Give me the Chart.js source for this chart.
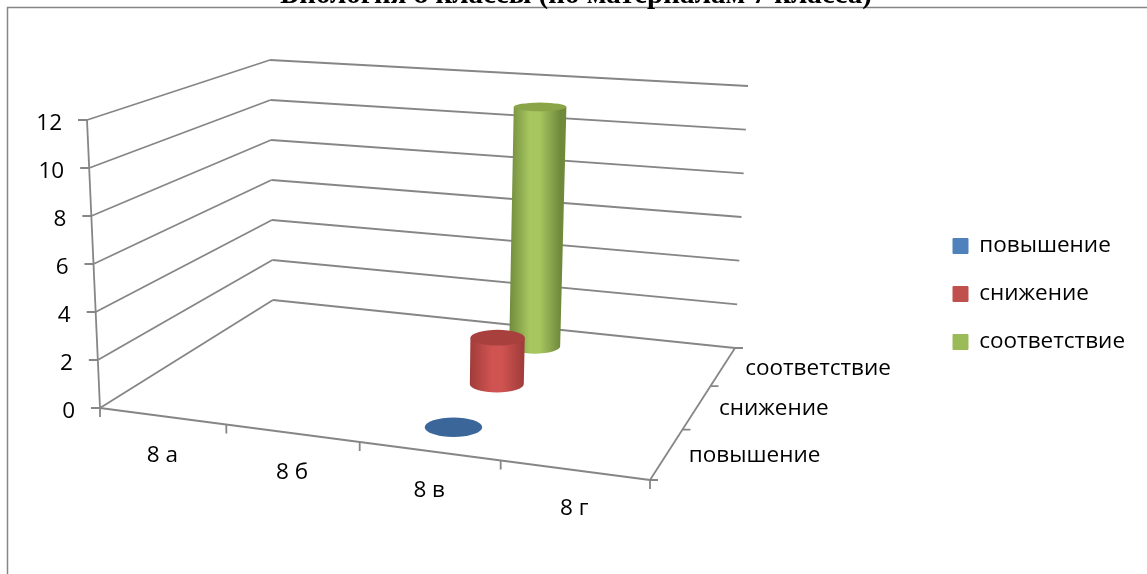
<!DOCTYPE html>
<html lang="ru">
<head>
    <meta charset="UTF-8">
    <title>Биология 8 классы</title>
    <script src="https://cdn.jsdelivr.net/npm/chart.js"></script>
    <style>
        html, body { margin: 0; padding: 0; background: #fff; overflow: hidden; }
        .chart-box { position: relative; width: 1147px; height: 574px; }
    </style>
</head>
<body>
<div class="chart-box"><canvas id="myChart" width="1147" height="574"></canvas></div>
<script>
    // Chart data
    const titleText = 'Биология 8 классы (по материалам 7 класса)';
    const categories = ['8 а', '8 б', '8 в', '8 г'];
    const seriesNames = ['повышение', 'снижение', 'соответствие'];
    const valueTicks = [0, 2, 4, 6, 8, 10, 12];
    const povyshenie = [null, null, 0, null];
    const snizhenie = [null, null, 2, null];
    const sootvetstvie = [null, null, 11, null];
    const seriesValues = [povyshenie, snizhenie, sootvetstvie];

    // Colours: legend colour, dark edge of the cylinder, lit middle, top cap
    const seriesColors = ['#4f81bd', '#c0504d', '#9bbb59'];
    const edgeColors = ['#3b6699', '#a03c3a', '#708a3c'];
    const midColors = ['#3b6699', '#cf5350', '#a6c660'];
    const capColors = ['#3b6699', '#a8403e', '#8aa548'];

    const lineColor = '#868686';
    const labelFont = '22.5px "Open Sans"';
    const maxValue = 12;
    const cylinderRadius = 0.21; // in category cells

    // Corners of the 3D box on the page: front-left, front-right, back-right, back-left
    const floorCorners = [[100, 408], [650, 480], [735, 348], [273, 300]];
    const topCorners = [[87, 120], [663, 160], [748, 86], [270, 60]];

    // Perspective map of the unit square onto four corners
    function makeHomography(p) {
        const [x0, y0] = p[0], [x1, y1] = p[1], [x2, y2] = p[2], [x3, y3] = p[3];
        const dx1 = x1 - x2, dx2 = x3 - x2, sx = x0 - x1 + x2 - x3;
        const dy1 = y1 - y2, dy2 = y3 - y2, sy = y0 - y1 + y2 - y3;
        const det = dx1 * dy2 - dx2 * dy1;
        const g = (sx * dy2 - dx2 * sy) / det;
        const h = (dx1 * sy - sx * dy1) / det;
        const a = x1 - x0 + g * x1, b = x3 - x0 + h * x3;
        const d = y1 - y0 + g * y1, e = y3 - y0 + h * y3;
        return (u, v) => {
            const w = g * u + h * v + 1;
            return [(a * u + b * v + x0) / w, (d * u + e * v + y0) / w];
        };
    }
    const floorMap = makeHomography(floorCorners);
    const topMap = makeHomography(topCorners);

    // category position, series position, value -> point of the x/y scales
    function project(cat, ser, value) {
        const u = cat / categories.length, v = ser / seriesNames.length, t = value / maxValue;
        const a = floorMap(u, v), b = topMap(u, v);
        return { x: a[0] + (b[0] - a[0]) * t, y: a[1] + (b[1] - a[1]) * t };
    }

    function segment(a, b) {
        return { data: [a, b], showLine: true, borderColor: lineColor, borderWidth: 1.8, pointRadius: 0 };
    }
    function offset(p, dx, dy) {
        return { x: p.x + dx, y: p.y + dy };
    }

    // Series first so the legend picks them up, then the box lines
    const datasets = seriesNames.map((name, s) => ({
        label: name,
        backgroundColor: seriesColors[s],
        borderColor: seriesColors[s],
        pointRadius: 0,
        data: seriesValues[s]
            .map((val, c) => (val === null ? null : project(c + 0.5, s + 0.5, val)))
            .filter(p => p !== null)
    }));

    valueTicks.forEach(val => {
        const front = project(0, 0, val);
        const corner = project(0, seriesNames.length, val);
        const right = project(categories.length, seriesNames.length, val);
        datasets.push(segment(front, corner), segment(corner, right), segment(offset(front, -9, 0), front));
    });
    datasets.push(segment(project(0, 0, 0), project(0, 0, maxValue)));
    datasets.push(segment(project(0, 0, 0), project(categories.length, 0, 0)));
    datasets.push(segment(project(categories.length, 0, 0), project(categories.length, seriesNames.length, 0)));
    for (let c = 0; c <= categories.length; c++) {
        const p = project(c, 0, 0);
        datasets.push(segment(p, offset(p, 0, 9)));
    }
    for (let s = 0; s <= seriesNames.length; s++) {
        const p = project(categories.length, s, 0);
        datasets.push(segment(p, offset(p, 8, 0)));
    }

    // Draws one cylinder standing on the floor, sizes come from the projection
    function drawCylinder(ctx, xs, ys, cat, ser, value, index) {
        const ring = val => {
            const l = project(cat - cylinderRadius, ser, val), r = project(cat + cylinderRadius, ser, val);
            const f = project(cat, ser - cylinderRadius, val), b = project(cat, ser + cylinderRadius, val);
            return {
                cx: xs.getPixelForValue((l.x + r.x) / 2),
                cy: ys.getPixelForValue((f.y + b.y) / 2),
                rx: Math.abs(xs.getPixelForValue(r.x) - xs.getPixelForValue(l.x)) / 2,
                ry: Math.abs(ys.getPixelForValue(f.y) - ys.getPixelForValue(b.y)) / 2
            };
        };
        const bottom = ring(0), top = ring(value);
        if (value > 0) {
            const grad = ctx.createLinearGradient(bottom.cx - bottom.rx, 0, bottom.cx + bottom.rx, 0);
            grad.addColorStop(0, edgeColors[index]);
            grad.addColorStop(0.4, midColors[index]);
            grad.addColorStop(0.6, midColors[index]);
            grad.addColorStop(1, edgeColors[index]);
            ctx.fillStyle = grad;
            ctx.beginPath();
            ctx.moveTo(top.cx - top.rx, top.cy);
            ctx.lineTo(bottom.cx - bottom.rx, bottom.cy);
            ctx.ellipse(bottom.cx, bottom.cy, bottom.rx, bottom.ry, 0, Math.PI, 0, true);
            ctx.lineTo(top.cx + top.rx, top.cy);
            ctx.closePath();
            ctx.fill();
        }
        ctx.fillStyle = capColors[index];
        ctx.beginPath();
        ctx.ellipse(top.cx, top.cy, top.rx, top.ry, 0, 0, Math.PI * 2);
        ctx.fill();
    }

    const boxPlugin = {
        id: 'box3d',
        beforeInit(chart) {
            // Fixed legend width so the plot keeps its size
            const originalFit = chart.legend.fit;
            chart.legend.fit = function () {
                originalFit.bind(chart.legend)();
                this.width = 219.5;
            };
        },
        beforeDraw(chart) {
            // Chart frame runs off the right and bottom of the page
            const ctx = chart.ctx;
            ctx.save();
            ctx.strokeStyle = lineColor;
            ctx.lineWidth = 1.5;
            ctx.beginPath();
            ctx.moveTo(7.5, 574);
            ctx.lineTo(7.5, 7.5);
            ctx.lineTo(1147, 7.5);
            ctx.stroke();
            ctx.restore();
        },
        afterDatasetsDraw(chart) {
            const ctx = chart.ctx, xs = chart.scales.x, ys = chart.scales.y;
            ctx.save();
            // Back row first
            for (let s = seriesValues.length - 1; s >= 0; s--) {
                seriesValues[s].forEach((val, c) => {
                    if (val !== null) drawCylinder(ctx, xs, ys, c + 0.5, s + 0.5, val, s);
                });
            }
            // Axis labels
            ctx.fillStyle = '#000';
            ctx.font = labelFont;
            ctx.textBaseline = 'middle';
            ctx.textAlign = 'right';
            valueTicks.forEach(val => {
                const p = project(0, 0, val);
                ctx.fillText(String(val), xs.getPixelForValue(p.x - 25), ys.getPixelForValue(p.y + 4));
            });
            ctx.textAlign = 'center';
            categories.forEach((name, c) => {
                const p = project(c + 0.5, 0, 0);
                ctx.fillText(name, xs.getPixelForValue(p.x), ys.getPixelForValue(p.y + 39));
            });
            ctx.textAlign = 'left';
            seriesNames.forEach((name, s) => {
                const p = project(categories.length, s + 0.5, 0);
                ctx.fillText(name, xs.getPixelForValue(p.x + 22), ys.getPixelForValue(p.y + 2));
            });
            ctx.restore();
        }
    };

    new Chart(document.getElementById('myChart').getContext('2d'), {
        type: 'scatter',
        data: { datasets: datasets },
        plugins: [boxPlugin],
        options: {
            responsive: false,
            animation: false,
            layout: { padding: { left: 5, top: -22, right: 0, bottom: -36 } },
            scales: {
                // x and y run in page pixels, the 3D frame is projected onto them
                x: { type: 'linear', display: false, min: 5, max: 927.5 },
                y: { type: 'linear', display: false, min: 12.8, max: 574, reverse: true }
            },
            plugins: {
                title: {
                    display: true,
                    text: titleText,
                    color: '#000',
                    padding: 0,
                    font: { family: '"Liberation Serif"', size: 29, weight: 'bold', lineHeight: 1.2 }
                },
                legend: {
                    position: 'right',
                    labels: {
                        color: '#000',
                        font: { family: '"Open Sans"', size: 22.5 },
                        boxWidth: 15,
                        boxHeight: 15,
                        padding: 25.5,
                        filter: item => item.datasetIndex < seriesNames.length
                    }
                },
                tooltip: { enabled: false }
            }
        }
    });
</script>
</body>
</html>
